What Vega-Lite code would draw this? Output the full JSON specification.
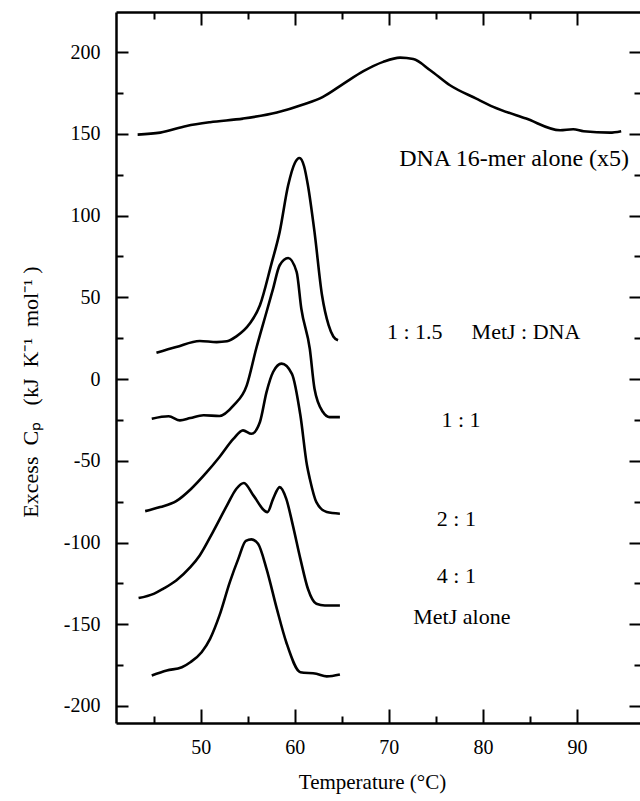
{
  "$schema": "https://vega.github.io/schema/vega-lite/v6.json",
  "width": 524,
  "height": 711,
  "autosize": "none",
  "padding": {"left": 116, "top": 12, "right": 0, "bottom": 78},
  "background": "white",
  "config": {
    "font": "Liberation Serif",
    "view": {"stroke": null},
    "axis": {"grid": false, "domainColor": "black", "domainWidth": 2.5, "tickColor": "black", "tickWidth": 2, "labelColor": "black", "titleColor": "black", "titleFontWeight": "normal", "labelFlush": false, "labelOverlap": false}
  },
  "datasets": {
    "curves": [
      {"s": "DNA", "t": 43.3, "cp": 149.5}, {"s": "DNA", "t": 45.7, "cp": 150.7}, {"s": "DNA", "t": 48.5, "cp": 154.8}, {"s": "DNA", "t": 51.0, "cp": 157.1}, {"s": "DNA", "t": 54.5, "cp": 159.3}, {"s": "DNA", "t": 58.1, "cp": 163}, {"s": "DNA", "t": 60.9, "cp": 167.9}, {"s": "DNA", "t": 63.0, "cp": 172.6}, {"s": "DNA", "t": 65.2, "cp": 180.7}, {"s": "DNA", "t": 67.3, "cp": 188.3}, {"s": "DNA", "t": 69.4, "cp": 194}, {"s": "DNA", "t": 71.2, "cp": 196.6}, {"s": "DNA", "t": 72.6, "cp": 195.7}, {"s": "DNA", "t": 74.4, "cp": 188.9}, {"s": "DNA", "t": 76.5, "cp": 179.7}, {"s": "DNA", "t": 79.3, "cp": 171.5}, {"s": "DNA", "t": 81.1, "cp": 166.5}, {"s": "DNA", "t": 84.6, "cp": 159.3}, {"s": "DNA", "t": 88.2, "cp": 152.2}, {"s": "DNA", "t": 89.6, "cp": 152.8}, {"s": "DNA", "t": 90.7, "cp": 151.6}, {"s": "DNA", "t": 93.5, "cp": 150.7}, {"s": "DNA", "t": 94.7, "cp": 151.6},
      {"s": "r15", "t": 45.3, "cp": 16.1}, {"s": "r15", "t": 47.4, "cp": 19.6}, {"s": "r15", "t": 49.9, "cp": 23.3}, {"s": "r15", "t": 51.7, "cp": 22.6}, {"s": "r15", "t": 52.8, "cp": 23.1}, {"s": "r15", "t": 53.8, "cp": 26.1}, {"s": "r15", "t": 55.2, "cp": 33.8}, {"s": "r15", "t": 56.3, "cp": 45.1}, {"s": "r15", "t": 57.5, "cp": 70}, {"s": "r15", "t": 58.4, "cp": 90}, {"s": "r15", "t": 59.3, "cp": 118.5}, {"s": "r15", "t": 60.0, "cp": 132}, {"s": "r15", "t": 60.5, "cp": 135.2}, {"s": "r15", "t": 61.0, "cp": 130}, {"s": "r15", "t": 61.4, "cp": 118.5}, {"s": "r15", "t": 62.1, "cp": 90}, {"s": "r15", "t": 62.9, "cp": 51.2}, {"s": "r15", "t": 63.6, "cp": 32.9}, {"s": "r15", "t": 64.1, "cp": 26}, {"s": "r15", "t": 64.6, "cp": 23.7},
      {"s": "r11", "t": 44.8, "cp": -24.3}, {"s": "r11", "t": 46.6, "cp": -22.8}, {"s": "r11", "t": 47.8, "cp": -25.3}, {"s": "r11", "t": 48.9, "cp": -23.9}, {"s": "r11", "t": 50.3, "cp": -22.2}, {"s": "r11", "t": 52.0, "cp": -22.6}, {"s": "r11", "t": 53.5, "cp": -16.1}, {"s": "r11", "t": 54.9, "cp": -3.9}, {"s": "r11", "t": 55.9, "cp": 18.5}, {"s": "r11", "t": 57.0, "cp": 41}, {"s": "r11", "t": 57.7, "cp": 55.3}, {"s": "r11", "t": 58.4, "cp": 69.6}, {"s": "r11", "t": 59.3, "cp": 74}, {"s": "r11", "t": 60.2, "cp": 65.5}, {"s": "r11", "t": 60.7, "cp": 43}, {"s": "r11", "t": 61.6, "cp": 18.5}, {"s": "r11", "t": 62.1, "cp": -5.9}, {"s": "r11", "t": 63.0, "cp": -20.2}, {"s": "r11", "t": 63.7, "cp": -23.3}, {"s": "r11", "t": 64.8, "cp": -23.3},
      {"s": "r21", "t": 44.1, "cp": -80.8}, {"s": "r21", "t": 45.7, "cp": -78.3}, {"s": "r21", "t": 47.4, "cp": -74.7}, {"s": "r21", "t": 49.0, "cp": -67.1}, {"s": "r21", "t": 50.6, "cp": -57.3}, {"s": "r21", "t": 52.0, "cp": -47.7}, {"s": "r21", "t": 53.5, "cp": -36.5}, {"s": "r21", "t": 54.5, "cp": -31.4}, {"s": "r21", "t": 55.4, "cp": -33.5}, {"s": "r21", "t": 56.3, "cp": -26.3}, {"s": "r21", "t": 57.0, "cp": -8}, {"s": "r21", "t": 57.7, "cp": 4.3}, {"s": "r21", "t": 58.6, "cp": 9.4}, {"s": "r21", "t": 59.7, "cp": 3.2}, {"s": "r21", "t": 60.6, "cp": -22.2}, {"s": "r21", "t": 61.3, "cp": -52.8}, {"s": "r21", "t": 61.6, "cp": -61}, {"s": "r21", "t": 62.3, "cp": -75.3}, {"s": "r21", "t": 63.4, "cp": -81.4}, {"s": "r21", "t": 64.8, "cp": -82.4},
      {"s": "r41", "t": 43.4, "cp": -134}, {"s": "r41", "t": 45.0, "cp": -131.4}, {"s": "r41", "t": 46.0, "cp": -128.3}, {"s": "r41", "t": 47.4, "cp": -123.2}, {"s": "r41", "t": 48.9, "cp": -115.1}, {"s": "r41", "t": 49.9, "cp": -107.9}, {"s": "r41", "t": 51.3, "cp": -93.6}, {"s": "r41", "t": 52.8, "cp": -77.3}, {"s": "r41", "t": 53.8, "cp": -67.1}, {"s": "r41", "t": 54.6, "cp": -63.6}, {"s": "r41", "t": 55.6, "cp": -71.2}, {"s": "r41", "t": 57.1, "cp": -81.4}, {"s": "r41", "t": 57.7, "cp": -73.3}, {"s": "r41", "t": 58.4, "cp": -66.1}, {"s": "r41", "t": 59.1, "cp": -73.3}, {"s": "r41", "t": 59.8, "cp": -89.5}, {"s": "r41", "t": 60.6, "cp": -110}, {"s": "r41", "t": 61.4, "cp": -128.3}, {"s": "r41", "t": 62.3, "cp": -137.5}, {"s": "r41", "t": 63.2, "cp": -138.5}, {"s": "r41", "t": 64.8, "cp": -138.5},
      {"s": "MetJ", "t": 44.8, "cp": -181.3}, {"s": "MetJ", "t": 46.4, "cp": -178.3}, {"s": "MetJ", "t": 48.0, "cp": -176.3}, {"s": "MetJ", "t": 48.9, "cp": -173.2}, {"s": "MetJ", "t": 50.1, "cp": -167.1}, {"s": "MetJ", "t": 51.0, "cp": -158.9}, {"s": "MetJ", "t": 52.0, "cp": -144.6}, {"s": "MetJ", "t": 53.1, "cp": -124.2}, {"s": "MetJ", "t": 54.0, "cp": -110}, {"s": "MetJ", "t": 54.8, "cp": -99}, {"s": "MetJ", "t": 55.4, "cp": -98.1}, {"s": "MetJ", "t": 56.1, "cp": -100.8}, {"s": "MetJ", "t": 57.0, "cp": -116.1}, {"s": "MetJ", "t": 58.1, "cp": -140.6}, {"s": "MetJ", "t": 59.1, "cp": -161}, {"s": "MetJ", "t": 60.6, "cp": -179.3}, {"s": "MetJ", "t": 62.3, "cp": -180.3}, {"s": "MetJ", "t": 63.4, "cp": -181.9}, {"s": "MetJ", "t": 64.8, "cp": -180.7}
    ],
    "labels": [
      {"t": 69.8, "cp": 28.8, "label": "1 : 1.5"},
      {"t": 78.8, "cp": 28.8, "label": "MetJ : DNA"},
      {"t": 75.6, "cp": -25.1, "label": "1 : 1"},
      {"t": 75.1, "cp": -85.5, "label": "2 : 1"},
      {"t": 75.1, "cp": -120.2, "label": "4 : 1"},
      {"t": 72.6, "cp": -145.5, "label": "MetJ alone"}
    ],
    "title": [
      {"t": 71.1, "cp": 134.8, "label": "DNA 16-mer alone (x5)"}
    ]
  },
  "layer": [
    {
      "data": {"name": "curves"},
      "mark": {"type": "line", "color": "black", "strokeWidth": 2.6, "interpolate": "monotone"},
      "encoding": {
        "x": {
          "field": "t", "type": "quantitative",
          "scale": {"domain": [41, 96.7], "nice": false, "zero": false},
          "axis": {
            "orient": "bottom",
            "values": [50, 60, 70, 80, 90],
            "labelExpr": "'' + datum.value",
            "ticks": false,
            "labelFontSize": 20, "labelPadding": 24, "labelBaseline": "middle",
            "title": "Temperature (°C)", "titleFontSize": 21,
            "titleX": 256, "titleY": 59, "titleBaseline": "middle", "titleAlign": "center"
          }
        },
        "y": {
          "field": "cp", "type": "quantitative",
          "scale": {"domain": [-210.4, 224.5], "nice": false, "zero": false},
          "axis": {
            "orient": "left",
            "values": [-200, -150, -100, -50, 0, 50, 100, 150, 200],
            "labelExpr": "'' + datum.value",
            "ticks": false,
            "labelFontSize": 20, "labelPadding": 16,
            "title": "Excess\u00a0\u00a0Cₚ\u00a0\u00a0\u00a0(kJ\u00a0\u00a0K⁻¹\u00a0\u00a0mol⁻¹\u00a0)", "titleFontSize": 22,
            "titleX": -86, "titleY": 379.5, "titleBaseline": "middle", "titleAlign": "center", "titleAngle": -90
          }
        },
        "detail": {"field": "s", "type": "nominal"}
      }
    },
    {
      "data": {"name": "labels"},
      "transform": [{"filter": "datum.label === '1 : 1.5' || datum.label === 'MetJ : DNA'"}],
      "mark": {"type": "text", "fontSize": 22, "align": "left", "baseline": "middle", "color": "black"},
      "encoding": {
        "x": {"field": "t", "type": "quantitative",
          "axis": {"orient": "bottom", "values": [50, 60, 70, 80, 90], "labels": false, "domain": false, "tickSize": 14, "offset": -14, "title": null}},
        "y": {"field": "cp", "type": "quantitative",
          "axis": {"orient": "left", "values": [-200, -150, -100, -50, 0, 50, 100, 150, 200], "labels": false, "domain": false, "tickSize": 12, "offset": -12, "title": null}},
        "text": {"field": "label", "type": "nominal"}
      }
    },
    {
      "data": {"name": "labels"},
      "transform": [{"filter": "datum.label === '1 : 1'"}],
      "mark": {"type": "text", "fontSize": 22, "align": "left", "baseline": "middle", "color": "black"},
      "encoding": {
        "x": {"field": "t", "type": "quantitative",
          "axis": {"orient": "bottom", "values": [45, 55, 65, 75, 85], "labels": false, "domain": false, "tickSize": 7, "offset": -7, "title": null}},
        "y": {"field": "cp", "type": "quantitative",
          "axis": {"orient": "left", "values": [-175, -125, -75, -25, 25, 75, 125, 175], "labels": false, "domain": false, "tickSize": 7, "offset": -7, "title": null}},
        "text": {"field": "label", "type": "nominal"}
      }
    },
    {
      "data": {"name": "labels"},
      "transform": [{"filter": "datum.label === '2 : 1'"}],
      "mark": {"type": "text", "fontSize": 22, "align": "left", "baseline": "middle", "color": "black"},
      "encoding": {
        "x": {"field": "t", "type": "quantitative",
          "axis": {"orient": "top", "values": [50, 60, 70, 80, 90], "labels": false, "ticks": false, "title": null}},
        "y": {"field": "cp", "type": "quantitative",
          "axis": {"orient": "right", "values": [-200, -150, -100, -50, 0, 50, 100, 150, 200], "labels": false, "domain": false, "tickSize": 11, "offset": -11, "title": null}},
        "text": {"field": "label", "type": "nominal"}
      }
    },
    {
      "data": {"name": "labels"},
      "transform": [{"filter": "datum.label === '4 : 1'"}],
      "mark": {"type": "text", "fontSize": 22, "align": "left", "baseline": "middle", "color": "black"},
      "encoding": {
        "x": {"field": "t", "type": "quantitative",
          "axis": {"orient": "top", "values": [50, 60, 70, 80, 90], "labels": false, "domain": false, "tickSize": 13, "offset": -13, "title": null}},
        "y": {"field": "cp", "type": "quantitative",
          "axis": {"orient": "right", "values": [-175, -125, -75, -25, 25, 75, 125, 175], "labels": false, "domain": false, "tickSize": 6, "offset": -6, "title": null}},
        "text": {"field": "label", "type": "nominal"}
      }
    },
    {
      "data": {"name": "labels"},
      "transform": [{"filter": "datum.label === 'MetJ alone'"}],
      "mark": {"type": "text", "fontSize": 22, "align": "left", "baseline": "middle", "color": "black"},
      "encoding": {
        "x": {"field": "t", "type": "quantitative",
          "axis": {"orient": "top", "values": [45, 55, 65, 75, 85], "labels": false, "domain": false, "tickSize": 7, "offset": -7, "title": null}},
        "y": {"field": "cp", "type": "quantitative", "axis": null},
        "text": {"field": "label", "type": "nominal"}
      }
    },
    {
      "data": {"name": "title"},
      "mark": {"type": "text", "fontSize": 24, "align": "left", "baseline": "middle", "color": "black"},
      "encoding": {
        "x": {"field": "t", "type": "quantitative", "axis": null},
        "y": {"field": "cp", "type": "quantitative", "axis": null},
        "text": {"field": "label", "type": "nominal"}
      }
    }
  ],
  "resolve": {"axis": {"x": "independent", "y": "independent"}}
}
